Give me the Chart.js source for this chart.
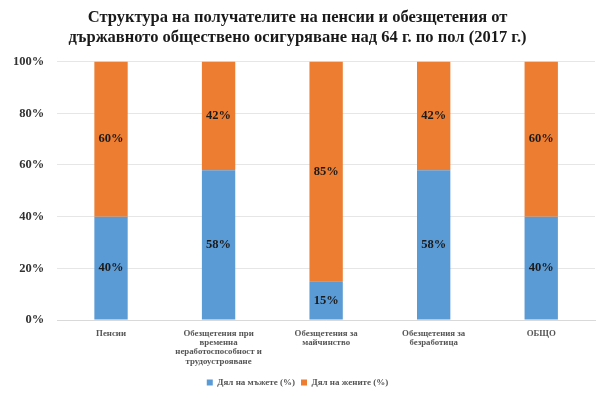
<!DOCTYPE html>
<html>
<head>
<meta charset="utf-8">
<script src="https://cdn.jsdelivr.net/npm/chart.js@4"></script>
<style>
  body { margin: 0; background: #fff; }
  #wrap { width: 606px; height: 399px; }
</style>
</head>
<body>
<div id="wrap"><canvas id="chart" width="606" height="399"></canvas></div>
<script>
const categories = [
  'Пенсии',
  ['Обезщетения при', 'временна', 'неработоспособност и', 'трудоустрояване'],
  ['Обезщетения за', 'майчинство'],
  ['Обезщетения за', 'безработица'],
  'ОБЩО'
];
const menShare = [40, 58, 15, 58, 40];
const womenShare = [60, 42, 85, 42, 60];
const yTicks = [0, 20, 40, 60, 80, 100];

// Value labels inside the stacked segments
const segmentLabels = {
  id: 'segmentLabels',
  afterDatasetsDraw(chart) {
    const { ctx } = chart;
    ctx.save();
    ctx.font = 'bold 12.5px "Liberation Serif"';
    ctx.fillStyle = '#1a1a1a';
    ctx.textAlign = 'center';
    ctx.textBaseline = 'middle';
    chart.data.datasets.forEach((ds, i) => {
      chart.getDatasetMeta(i).data.forEach((bar, j) => {
        const mid = (bar.y + bar.base) / 2;
        ctx.fillText(ds.data[j] + '%', bar.x, mid);
      });
    });
    ctx.restore();
  }
};

new Chart(document.getElementById('chart'), {
  type: 'bar',
  data: {
    labels: categories,
    datasets: [
      { label: 'Дял на мъжете (%)', data: menShare, backgroundColor: '#5B9BD5' },
      { label: 'Дял на жените (%)', data: womenShare, backgroundColor: '#ED7D31' }
    ]
  },
  options: {
    responsive: false,
    animation: false,
    layout: { padding: { left: 0, right: 11, top: 2, bottom: 2 } },
    datasets: { bar: { barPercentage: 0.31, categoryPercentage: 1 } },
    plugins: {
      title: {
        display: true,
        text: ['Структура на получателите на пенсии и обезщетения от',
               'държавното обществено осигуряване над 64 г. по пол (2017 г.)'],
        font: { family: 'Liberation Serif', size: 16.5, weight: 'bold' },
        color: '#1a1a1a',
        padding: { top: 6, bottom: 14 },
        lineHeight: 1.25
      },
      legend: {
        position: 'bottom',
        labels: {
          boxWidth: 6,
          boxHeight: 6,
          padding: 6,
          color: '#555',
          font: { family: 'Liberation Serif', size: 9, weight: 'bold' }
        }
      },
      tooltip: { enabled: false }
    },
    scales: {
      x: {
        stacked: true,
        grid: { display: false, drawTicks: false },
        border: { color: '#d9d9d9' },
        afterFit(axis) { axis.height = 52; },
        ticks: {
          maxRotation: 0,
          autoSkip: false,
          padding: 9,
          color: '#555',
          font: { family: 'Liberation Serif', size: 8.8, weight: 'bold', lineHeight: 1.05 }
        }
      },
      y: {
        stacked: true,
        min: 0,
        max: 100,
        afterBuildTicks(axis) { axis.ticks = yTicks.map(v => ({ value: v })); },
        grid: { color: '#e6e6e6', drawTicks: false },
        border: { display: false },
        ticks: {
          padding: 13,
          color: '#333',
          font: { family: 'Liberation Serif', size: 12.5, weight: 'bold' },
          callback: v => v + '%'
        }
      }
    }
  },
  plugins: [segmentLabels]
});
</script>
</body>
</html>
